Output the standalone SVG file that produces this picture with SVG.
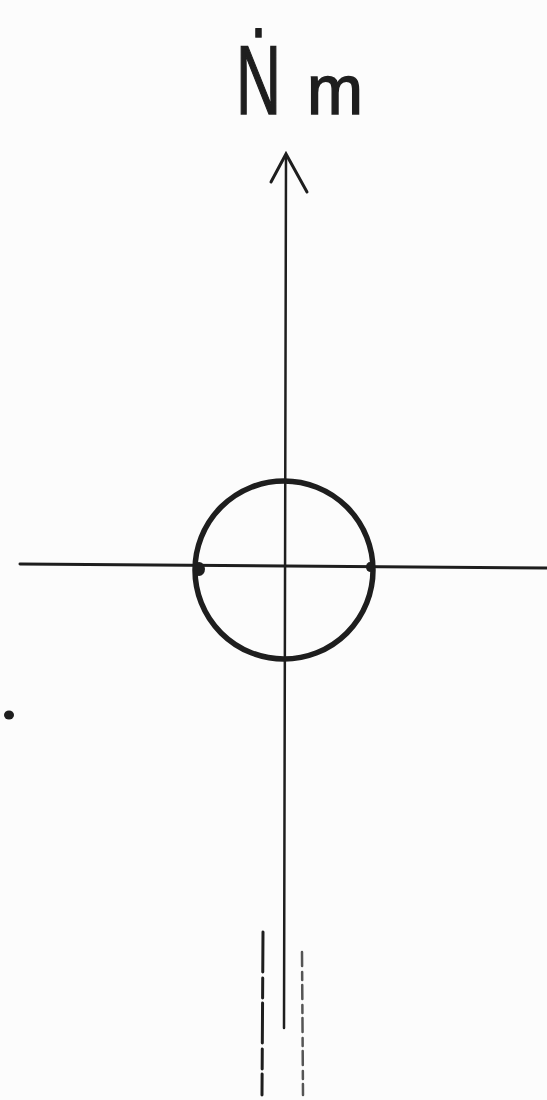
<svg xmlns="http://www.w3.org/2000/svg" width="547" height="1100" viewBox="0 0 547 1100">
<style>
.ink{stroke:#1e1e1e;fill:none;stroke-linecap:round}
.faint{stroke:#555;fill:none;stroke-linecap:round}
.lbl{font-family:"Liberation Sans",Arial,sans-serif;fill:#1e1e1e;stroke:#1e1e1e;stroke-width:1.5}
</style>
<rect width="547" height="1100" fill="#fcfcfc"/>
<g id="label">
<text class="lbl" y="114"><tspan x="236" font-size="98" textLength="45" lengthAdjust="spacingAndGlyphs">Ṅ</tspan><tspan x="307" font-size="70" textLength="56" lengthAdjust="spacingAndGlyphs">m</tspan></text>
</g>
<g id="connectors">
<line class="ink" x1="20" y1="564" x2="547" y2="568" stroke-width="3"/>
<line class="ink" x1="286" y1="156" x2="284" y2="1028" stroke-width="2.5"/>
<polyline class="ink" points="271,182 286,154 307,192" stroke-width="3"/>
<line class="ink" x1="263" y1="932" x2="262" y2="1095" stroke-width="3" stroke-dasharray="40 6 20 5"/>
<line class="faint" x1="302" y1="952" x2="303" y2="1095" stroke-width="2.5" stroke-dasharray="14 6 8 5"/>
</g>
<g id="circle">
<circle class="ink" cx="284" cy="570" r="89" stroke-width="5.5"/>
<ellipse cx="199" cy="569" rx="6" ry="7" fill="#1e1e1e"/>
<ellipse cx="370" cy="567" rx="4" ry="5" fill="#1e1e1e"/>
</g>
<g id="dot">
<ellipse cx="9" cy="715" rx="5" ry="4.5" fill="#1e1e1e"/>
</g>
</svg>
